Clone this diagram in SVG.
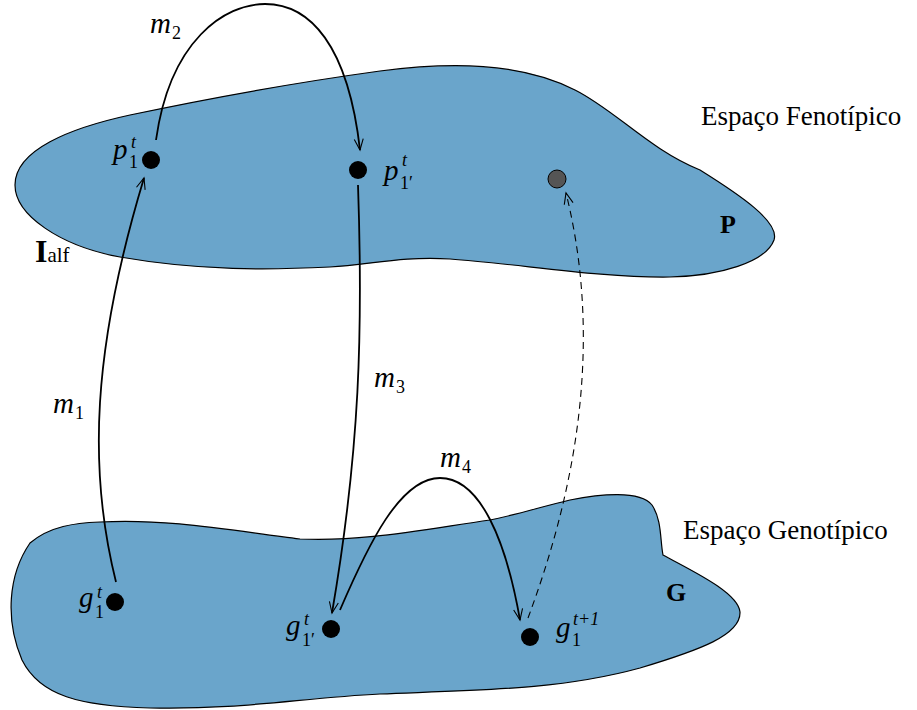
<svg xmlns="http://www.w3.org/2000/svg" width="917" height="710" viewBox="0 0 917 710">
<defs>
<style>
.blob{fill:#6aa5cb;stroke:#000;stroke-width:1.2}
.dot{fill:#000}
.edge{fill:none;stroke:#000;stroke-width:1.8}
.dash{fill:none;stroke:#000;stroke-width:1.1;stroke-dasharray:7 5}
.mi{font-family:"Liberation Serif","Times New Roman",serif;font-style:italic;font-size:29px}
.sub{font-family:"Liberation Serif","Times New Roman",serif;font-size:18px}
.sup{font-family:"Liberation Serif","Times New Roman",serif;font-style:italic;font-size:18px}
.lbl{font-family:"Liberation Serif","Times New Roman",serif;font-size:27px}
.bold{font-family:"Liberation Serif","Times New Roman",serif;font-weight:bold;font-size:26px}
.ibig{font-family:"Liberation Serif","Times New Roman",serif;font-weight:bold;font-size:32px}
.alf{font-family:"Liberation Serif","Times New Roman",serif;font-size:21px}
</style>
<marker id="arr" viewBox="-12 -6 14 12" refX="0" refY="0" markerWidth="14" markerHeight="12" markerUnits="userSpaceOnUse" orient="auto">
<path d="M-11,-4.5 L0,0 L-11,4.5" fill="none" stroke="#000" stroke-width="1.1"/>
</marker>
</defs>
<rect width="917" height="710" fill="#fff"/>
<g id="space-P">
<path class="blob" d="M15,185 C15,150 70,128 130,115 C220,96 300,82 380,71 C450,62 520,62 575,90 C615,110 650,150 700,170 C740,195 780,222 774,240 C766,262 720,276 670,277 C600,278 520,264 450,259 C400,256 370,265 330,267 C270,270 200,271 120,257 C60,246 15,215 15,185 Z"/>
<text class="bold" x="720" y="233">P</text>
<text x="35" y="262"><tspan class="ibig">I</tspan><tspan class="alf">alf</tspan></text>
</g>
<g id="space-G">
<path class="blob" d="M100,522 C170,518 240,532 300,539 C360,542 420,530 490,520 C520,514 540,507 570,500 C600,494 640,490 652,505 C662,520 660,540 663,555 C690,570 738,592 740,612 C741,635 700,650 640,668 C560,690 480,690 380,694 C300,698 240,710 150,708 C80,706 40,696 22,660 C5,620 8,575 30,543 C50,526 75,523 100,522 Z"/>
<text class="bold" x="666" y="601">G</text>
</g>
<g id="label-fen"><text class="lbl" x="701" y="125">Espaço Fenotípico</text></g>
<g id="label-gen"><text class="lbl" x="683" y="539">Espaço Genotípico</text></g>
<g id="p1t">
<circle class="dot" cx="151" cy="160" r="9"/>
<text class="mi" x="113" y="159">p</text><text class="sub" x="129" y="168">1</text><text class="sup" x="131" y="148">t</text>
</g>
<g id="p1p">
<circle class="dot" cx="358" cy="170" r="9"/>
<text class="mi" x="384" y="180">p</text><text class="sub" x="400" y="189">1′</text><text class="sup" x="402" y="166">t</text>
</g>
<g id="pnew">
<circle cx="557" cy="179" r="9" fill="#555" stroke="#000" stroke-width="1"/>
</g>
<g id="g1t">
<circle class="dot" cx="115" cy="602" r="9"/>
<text class="mi" x="79" y="607">g</text><text class="sub" x="95" y="618">1</text><text class="sup" x="97" y="598">t</text>
</g>
<g id="g1p">
<circle class="dot" cx="331" cy="629" r="9"/>
<text class="mi" x="286" y="635">g</text><text class="sub" x="302" y="646">1′</text><text class="sup" x="304" y="625">t</text>
</g>
<g id="g1t1">
<circle class="dot" cx="530" cy="637" r="9"/>
<text class="mi" x="556" y="637">g</text><text class="sub" x="572" y="646">1</text><text class="sup" x="573" y="625">t+1</text>
</g>
<g id="connectors">
<path class="edge" marker-end="url(#arr)" d="M116,582 C88,470 92,350 144,178"/>
<path class="edge" marker-end="url(#arr)" d="M156,140 C170,40 225,4 265,4 C310,4 348,45 360,150"/>
<path class="edge" marker-end="url(#arr)" d="M358,185 C363,330 360,450 332,613"/>
<path class="edge" marker-end="url(#arr)" d="M340,610 C368,545 400,478 440,478 C480,478 506,540 520,620"/>
<path class="dash" marker-end="url(#arr)" d="M528,618 C572,500 605,350 566,193"/>
</g>
<g id="edge-labels">
<text class="mi" x="53" y="413">m</text><text class="sub" x="75" y="419">1</text>
<text class="mi" x="150" y="33">m</text><text class="sub" x="172" y="39">2</text>
<text class="mi" x="374" y="387">m</text><text class="sub" x="396" y="393">3</text>
<text class="mi" x="440" y="467">m</text><text class="sub" x="462" y="473">4</text>
</g>
</svg>
